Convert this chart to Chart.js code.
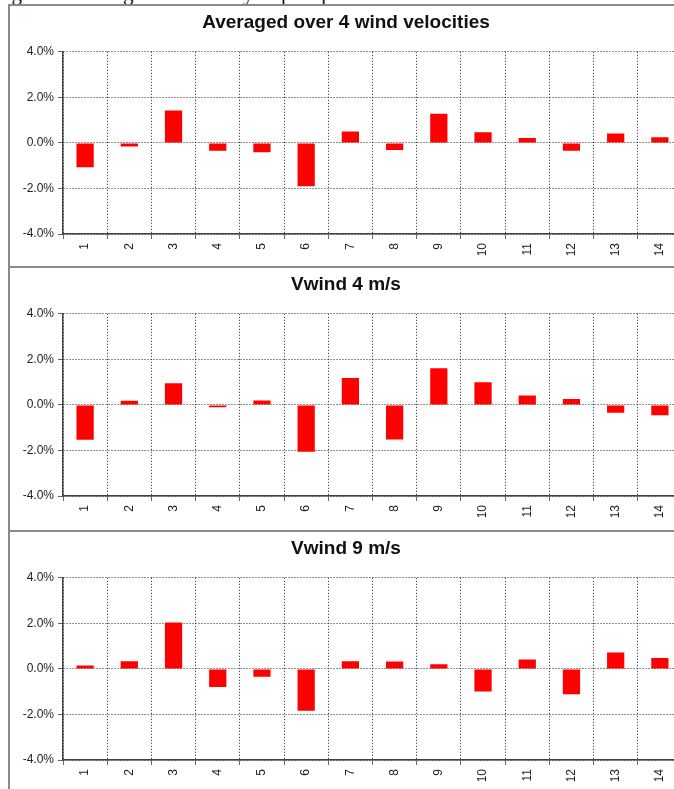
<!DOCTYPE html>
<html>
<head>
<meta charset="utf-8">
<script src="https://cdn.jsdelivr.net/npm/chart.js@4"></script>
<style>
  html, body { margin: 0; padding: 0; background: #fff; }
  body { width: 674px; height: 789px; overflow: hidden; position: relative; }
  .caption {
    position: absolute; left: -6px; top: -19px; white-space: nowrap;
    font-family: "Liberation Serif", "DejaVu Serif", serif; font-size: 21px; color: #111;
  }
  .panel {
    position: absolute; left: 8px; width: 680px; height: 262px;
    border-left: 2px solid #8a8a8a; border-top: 2px solid #8a8a8a; background: #fff;
  }
  .panel canvas { display: block; }
</style>
</head>
<body>
<div class="caption">Figures showing wind velocity impact positive deviation in mean value</div>
<div class="panel" style="top:4px"><canvas id="c1" width="672" height="262"></canvas></div>
<div class="panel" style="top:266px; border-bottom:1px solid #8a8a8a"><canvas id="c2" width="672" height="262"></canvas></div>
<div class="panel" style="top:530px"><canvas id="c3" width="672" height="262"></canvas></div>
<script>
const categories = ["1", "2", "3", "4", "5", "6", "7", "8", "9", "10", "11", "12", "13", "14"];
const yTicks = [-4, -2, 0, 2, 4];

const averaged = [-1.07, -0.16, 1.42, -0.35, -0.41, -1.90, 0.50, -0.31, 1.28, 0.47, 0.22, -0.35, 0.41, 0.25];
const wind4 = [-1.53, 0.18, 0.95, -0.10, 0.19, -2.06, 1.18, -1.52, 1.61, 1.00, 0.41, 0.26, -0.34, -0.45];
const wind9 = [0.15, 0.34, 2.04, -0.80, -0.35, -1.84, 0.34, 0.32, 0.20, -0.99, 0.41, -1.11, 0.72, 0.48];

const titles = ["Averaged over 4 wind velocities", "Vwind 4 m/s", "Vwind 9 m/s"];

const tickFont = { family: "Arial, 'Liberation Sans', sans-serif", size: 12 };

function makePanel(id, title, values) {
    const ctx = document.getElementById(id).getContext("2d");
    return new Chart(ctx, {
        type: "bar",
        data: {
            labels: categories,
            datasets: [
                {
                    data: values,
                    backgroundColor: "#ff0000",
                    borderWidth: 0,
                    barPercentage: 0.39,
                    categoryPercentage: 1,
                },
            ],
        },
        options: {
            responsive: false,
            animation: false,
            devicePixelRatio: 1,
            plugins: {
                legend: { display: false },
                tooltip: { enabled: false },
                title: {
                    display: true,
                    text: title,
                    color: "#111",
                    font: { family: "Arial, 'Liberation Sans', sans-serif", size: 19, weight: "bold" },
                    padding: { top: 5, bottom: 18 },
                },
            },
            scales: {
                y: {
                    min: -4,
                    max: 4,
                    afterBuildTicks: (axis) => {
                        axis.ticks = yTicks.map((v) => ({ value: v }));
                    },
                    afterFit: (axis) => { axis.width = 53; },
                    ticks: {
                        color: "#222",
                        font: tickFont,
                        padding: 4,
                        callback: (v) => v.toFixed(1) + "%",
                    },
                    grid: {
                        color: "#222",
                        tickColor: "#666",
                        tickBorderDash: [],
                        tickLength: 5,
                    },
                    border: { color: "#444", width: 1.5, dash: [1, 2] },
                },
                x: {
                    afterFit: (axis) => { axis.height = 34; },
                    ticks: {
                        color: "#222",
                        font: tickFont,
                        minRotation: 90,
                        maxRotation: 90,
                        padding: 4,
                        autoSkip: false,
                    },
                    grid: {
                        offset: true,
                        color: "#222",
                        tickColor: "#666",
                        tickBorderDash: [],
                        tickLength: 5,
                    },
                    border: { color: "#444", width: 1.5, dash: [1, 2] },
                },
            },
        },
    });
}

makePanel("c1", titles[0], averaged);
makePanel("c2", titles[1], wind4);
makePanel("c3", titles[2], wind9);
</script>
</body>
</html>
